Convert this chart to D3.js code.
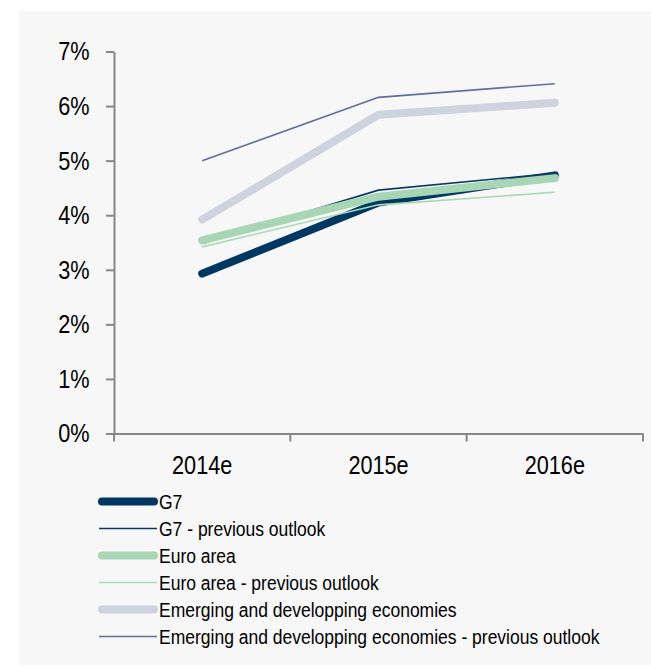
<!DOCTYPE html>
<html>
<head>
<meta charset="utf-8">
<script src="https://cdn.jsdelivr.net/npm/d3@7"></script>
<style>
  html, body { margin: 0; padding: 0; background: #ffffff; }
  svg { display: block; }
  text { font-family: "Liberation Sans", Arial, sans-serif; }
</style>
</head>
<body>
<svg id="chart" width="651" height="667"></svg>
<script>
// Forecast years on the horizontal axis
const years = ["2014e", "2015e", "2016e"];

// Growth forecasts, in percent
const g7 = [2.93, 4.23, 4.73];
const g7Previous = [3.48, 4.46, 4.77];
const euroArea = [3.54, 4.34, 4.68];
const euroAreaPrevious = [3.42, 4.19, 4.42];
const emerging = [3.92, 5.84, 6.06];
const emergingPrevious = [5.00, 6.16, 6.41];

// Value axis ticks
const yTicks = [0, 1, 2, 3, 4, 5, 6, 7];

const seriesNames = [
  "G7",
  "G7 - previous outlook",
  "Euro area",
  "Euro area - previous outlook",
  "Emerging and developping economies",
  "Emerging and developping economies - previous outlook"
];
const seriesValues = [g7, g7Previous, euroArea, euroAreaPrevious, emerging, emergingPrevious];
const seriesStyles = [
  { color: "#003763", width: 8 },
  { color: "#0b3a66", width: 1.6 },
  { color: "#a8d6b5", width: 8 },
  { color: "#a9d9b6", width: 1.6 },
  { color: "#ced3e0", width: 8 },
  { color: "#5f6f99", width: 1.6 }
];

const series = seriesNames.map((name, i) => ({
  name,
  values: seriesValues[i],
  ...seriesStyles[i]
}));

// Narrow face: regular sans squeezed horizontally
const narrow = 0.85;

const svg = d3.select("#chart");

// Panel background
svg.append("rect")
  .attr("x", 19).attr("y", 11)
  .attr("width", 632).attr("height", 654)
  .attr("fill", "#f7f7f7");

const plot = { left: 114, right: 643, top: 51.5, bottom: 433.5 };

const x = d3.scaleBand().domain(years).range([plot.left, plot.right]);
const y = d3.scaleLinear().domain([0, 7]).range([plot.bottom, plot.top]);

const axisColor = "#888888";

// Y axis
const yAxis = svg.append("g")
  .attr("transform", `translate(${plot.left},0)`)
  .call(d3.axisLeft(y).tickValues(yTicks).tickFormat(d => d + "%").tickSizeInner(8).tickSizeOuter(0));
yAxis.select(".domain").attr("stroke", axisColor).attr("stroke-width", 2);
yAxis.selectAll(".tick line").attr("stroke", axisColor).attr("stroke-width", 2);
yAxis.selectAll(".tick text")
  .attr("font-size", 25.5).attr("fill", "#000")
  .attr("x", -24.5 / narrow)
  .attr("dy", "0.33em")
  .attr("transform", `scale(${narrow},1)`);

// X axis with ticks on category boundaries
const xAxis = svg.append("g")
  .attr("transform", `translate(0,${plot.bottom})`)
  .call(d3.axisBottom(x).tickSize(0).tickPadding(22));
xAxis.select(".domain").attr("stroke", axisColor).attr("stroke-width", 2);
xAxis.selectAll(".tick text")
  .attr("font-size", 25.5).attr("fill", "#000")
  .attr("transform", `scale(${narrow},1)`);

const boundaries = years.map(d => x(d)).concat([x(years[years.length - 1]) + x.bandwidth()]);
xAxis.selectAll("line.boundary")
  .data(boundaries)
  .enter().append("line")
  .attr("class", "boundary")
  .attr("x1", d => d).attr("x2", d => d)
  .attr("y1", 0).attr("y2", 8)
  .attr("stroke", axisColor).attr("stroke-width", 2);

// Series lines
const line = d3.line()
  .x((d, i) => x(years[i]) + x.bandwidth() / 2)
  .y(d => y(d));

svg.append("g")
  .selectAll("path")
  .data(series)
  .enter().append("path")
  .attr("d", d => line(d.values))
  .attr("fill", "none")
  .attr("stroke", d => d.color)
  .attr("stroke-width", d => d.width)
  .attr("stroke-linecap", d => d.width > 4 ? "round" : "butt")
  .attr("stroke-linejoin", "round");

// Legend
const legend = svg.append("g").attr("class", "legend");
const legendTop = 501.5, legendStep = 27;
const items = legend.selectAll("g")
  .data(series)
  .enter().append("g")
  .attr("transform", (d, i) => `translate(0,${legendTop + i * legendStep})`);

items.append("line")
  .attr("x1", d => d.width > 4 ? 102 : 99)
  .attr("x2", d => d.width > 4 ? 154 : 157)
  .attr("y1", 0).attr("y2", 0)
  .attr("stroke", d => d.color)
  .attr("stroke-width", d => d.width)
  .attr("stroke-linecap", d => d.width > 4 ? "round" : "butt");

items.append("text")
  .attr("transform", `translate(159,0) scale(0.875,1)`)
  .attr("dy", "0.35em")
  .attr("font-size", 20)
  .attr("fill", "#000")
  .text(d => d.name);
</script>
</body>
</html>
